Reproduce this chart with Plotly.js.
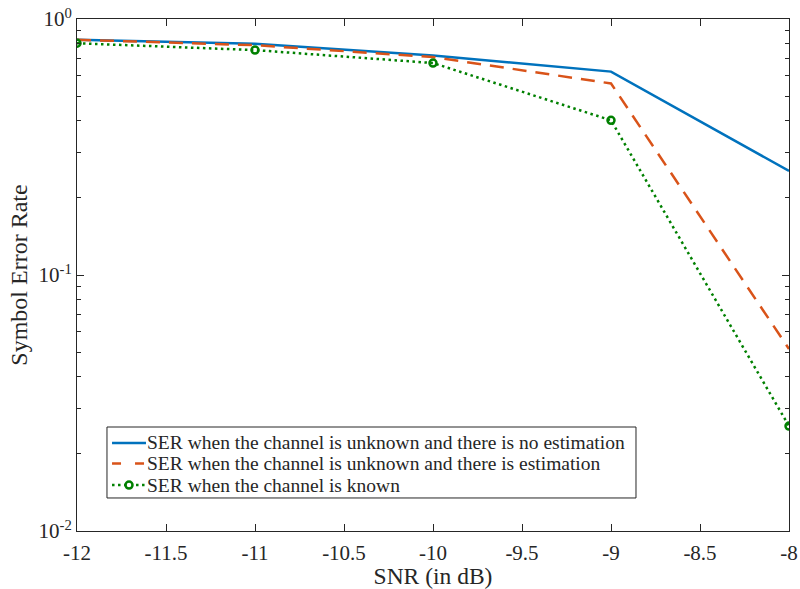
<!DOCTYPE html>
<html><head><meta charset="utf-8">
<script src="https://cdn.plot.ly/plotly-3.0.1.min.js"></script>
<style>body{margin:0;padding:0;background:#fff}#chart{width:800px;height:589px}</style>
</head><body><div id="chart"></div>
<script>
const snr = [-12, -11, -10, -9, -8];
const serNoEst = [0.830, 0.800, 0.720, 0.623, 0.255];
const serEst = [0.830, 0.790, 0.710, 0.560, 0.0514];
const serKnown = [0.804, 0.756, 0.673, 0.402, 0.0257];
const names = [
  'SER when the channel is unknown and there is no estimation',
  'SER when the channel is unknown and there is estimation',
  'SER when the channel is known'
];
const colors = ['#0072BD', '#D95319', '#008000'];
const dashes = ['solid', '14px,9px', '2.5px,3.5px'];
const xTicks = [-12, -11.5, -11, -10.5, -10, -9.5, -9, -8.5, -8];
const xTickText = ['-12', '-11.5', '-11', '-10.5', '-10', '-9.5', '-9', '-8.5', '-8'];
const yTicks = [0.01, 0.1, 1];
const yTickText = ['10<sup>-2</sup>', '10<sup>-1</sup>', '10<sup>0</sup>'];
const yMinor = [0.02,0.03,0.04,0.05,0.06,0.07,0.08,0.09,0.2,0.3,0.4,0.5,0.6,0.7,0.8,0.9];

const font = {family: 'Liberation Serif, Times New Roman, serif', color: '#262626'};
const traces = [
  {x: snr, y: serNoEst, name: names[0], mode: 'lines', line: {color: colors[0], width: 2.5}},
  {x: snr, y: serEst, name: names[1], mode: 'lines', line: {color: colors[1], width: 2.5, dash: dashes[1]}},
  {x: snr, y: serKnown, name: names[2], mode: 'lines+markers', line: {color: colors[2], width: 2.5, dash: dashes[2]},
   marker: {symbol: 'circle-open', size: 7, color: colors[2], line: {width: 2.5, color: colors[2]}}}
];

// custom legend (paper coordinates)
const legBox = {x0: 0.0421, x1: 0.7851, y0: 0.0645, y1: 0.2031};
const legRows = [0.1719, 0.1318, 0.0898];
const symX0 = 0.0492, symX1 = 0.0969, textX = 0.0955;
const shapes = [
  {type: 'rect', xref: 'paper', yref: 'paper', x0: legBox.x0, x1: legBox.x1, y0: legBox.y0, y1: legBox.y1,
   fillcolor: '#fff', line: {color: '#262626', width: 1}, layer: 'above'}
];
const annotations = [];
names.forEach((n, i) => {
  shapes.push({type: 'line', xref: 'paper', yref: 'paper', x0: symX0, x1: symX1, y0: legRows[i], y1: legRows[i],
    line: {color: colors[i], width: 2.5, dash: i === 1 ? '9px,14px,9px' : dashes[i]}, layer: 'above'});
  annotations.push({xref: 'paper', yref: 'paper', x: textX, y: legRows[i], xanchor: 'left', yanchor: 'middle',
    text: n, showarrow: false, font: Object.assign({size: 19.5}, font)});
});
shapes.push({type: 'circle', xref: 'paper', yref: 'paper', xsizemode: 'pixel', ysizemode: 'pixel',
  xanchor: (symX0 + symX1) / 2, yanchor: legRows[2], x0: -3.5, x1: 3.5, y0: -3.5, y1: 3.5,
  fillcolor: '#fff', line: {color: colors[2], width: 2.5}, layer: 'above'});

const layout = {
  width: 800, height: 589,
  margin: {l: 77, r: 11, t: 19, b: 58},
  paper_bgcolor: '#fff', plot_bgcolor: '#fff',
  font: Object.assign({size: 19}, font),
  showlegend: false,
  shapes: shapes, annotations: annotations,
  xaxis: {range: [-12, -8], tickvals: xTicks, ticktext: xTickText, ticks: 'inside', ticklen: 7,
    tickcolor: '#262626', showline: true, linecolor: '#262626', linewidth: 1, mirror: 'ticks',
    showgrid: false, zeroline: false, tickfont: Object.assign({size: 21}, font), ticklabelstandoff: 3,
    title: {text: 'SNR (in dB)', font: Object.assign({size: 23.5}, font), standoff: 3}},
  yaxis: {type: 'log', range: [-2, 0], tickvals: yTicks, ticktext: yTickText, ticks: 'inside', ticklen: 7,
    tickcolor: '#262626', showline: true, linecolor: '#262626', linewidth: 1, mirror: 'ticks',
    showgrid: false, zeroline: false, tickfont: Object.assign({size: 21}, font),
    minor: {tickvals: yMinor, ticks: 'inside', ticklen: 4, tickcolor: '#262626', showgrid: false},
    title: {text: 'Symbol Error Rate', font: Object.assign({size: 24}, font), standoff: 4}}
};
Plotly.newPlot('chart', traces, layout, {displayModeBar: false, staticPlot: true});
</script></body></html>
